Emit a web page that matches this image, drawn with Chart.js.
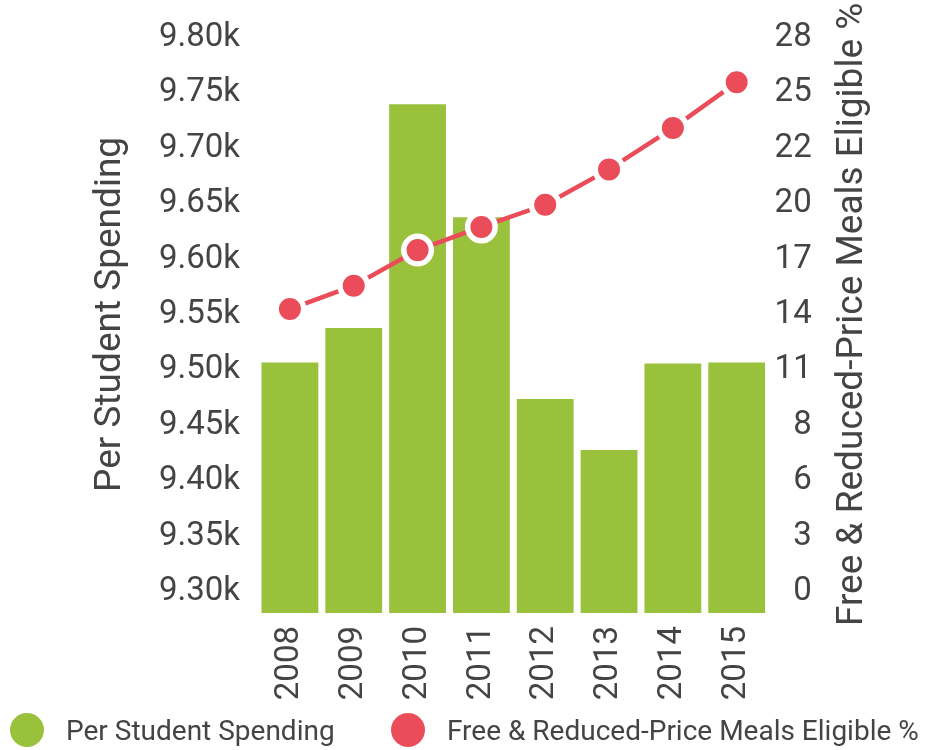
<!DOCTYPE html>
<html>
<head>
<meta charset="utf-8">
<script src="https://cdn.jsdelivr.net/npm/chart.js@4/dist/chart.umd.min.js"></script>
<style>
html, body { margin: 0; padding: 0; background: #fff; }
#wrap { position: relative; width: 935px; height: 750px; }
#legend { position: absolute; left: 0; top: 711px; width: 935px; height: 38px;
  font-family: Roboto, sans-serif; font-size: 28px; color: #444; }
.item { position: absolute; top: 0; height: 38px; display: flex; align-items: center; white-space: nowrap; }
.dot { width: 34px; height: 34px; border-radius: 50%; margin-right: 22px; flex: none; }
</style>
</head>
<body>
<div id="wrap">
  <canvas id="c"></canvas>
  <div id="legend"></div>
</div>
<script>
// ---- data ----
const years = ['2008', '2009', '2010', '2011', '2012', '2013', '2014', '2015'];
const perStudentSpending = [9507, 9538, 9740, 9638, 9474, 9428, 9506, 9507];
const frpmEligiblePct = [14.29, 15.47, 17.27, 18.44, 19.56, 21.35, 23.44, 25.75];
const spendingTicks = [9300, 9350, 9400, 9450, 9500, 9550, 9600, 9650, 9700, 9750, 9800];
const frpmTicks = [0, 2.8, 5.6, 8.4, 11.2, 14, 16.8, 19.6, 22.4, 25.2, 28];
const seriesNames = ['Per Student Spending', 'Free & Reduced-Price Meals Eligible %'];

// ---- style ----
const GREEN = '#99c13c';
const RED = '#ea4c5a';
const TEXT = '#444444';
const FONT = 'Roboto';

// axis titles, both reading bottom-to-top
const axisTitlePlugin = {
  id: 'axisTitles',
  afterDraw(chart) {
    const ca = chart.chartArea;
    const ctx = chart.ctx;
    const cy = (ca.top + ca.bottom) / 2 - 11;
    const items = [
      { x: chart.scales.yL.left + 111, text: seriesNames[0] },
      { x: chart.scales.yR.right + 41, text: seriesNames[1] }
    ];
    items.forEach(it => {
      ctx.save();
      ctx.translate(it.x, cy);
      ctx.rotate(-Math.PI / 2);
      ctx.font = '37px ' + FONT;
      ctx.fillStyle = TEXT;
      ctx.textAlign = 'center';
      ctx.textBaseline = 'middle';
      ctx.fillText(it.text, 0, 0);
      ctx.restore();
    });
  }
};

const chart = new Chart(document.getElementById('c'), {
  type: 'bar',
  data: {
    labels: years,
    datasets: [
      {
        type: 'line',
        label: seriesNames[1],
        data: frpmEligiblePct,
        yAxisID: 'yR',
        order: 0,
        borderColor: RED,
        borderWidth: 4.5,
        backgroundColor: RED,
        pointRadius: 13.75,
        pointBorderWidth: 5.5,
        pointBorderColor: '#ffffff',
        pointBackgroundColor: RED,
        tension: 0,
        fill: false
      },
      {
        type: 'bar',
        label: seriesNames[0],
        data: perStudentSpending,
        yAxisID: 'yL',
        order: 1,
        backgroundColor: GREEN,
        borderWidth: 0,
        barPercentage: 0.89,
        categoryPercentage: 1.0
      }
    ]
  },
  options: {
    responsive: true,
    maintainAspectRatio: false,
    animation: false,
    layout: { padding: { top: 33.3, bottom: 50, left: 0, right: 123.3 } },
    plugins: {
      legend: { display: false },
      tooltip: { enabled: false }
    },
    scales: {
      x: {
        offset: true,
        grid: { display: false, drawTicks: false },
        border: { display: false },
        ticks: {
          color: TEXT,
          font: { family: FONT, size: 33 },
          minRotation: 90, maxRotation: 90,
          autoSkip: false,
          padding: 13
        },
        afterFit(s) { s.height = 87; }
      },
      yL: {
        position: 'left',
        beginAtZero: false,
        min: 9280.9,
        max: 9800,
        grid: { display: false, drawTicks: false },
        border: { display: false },
        afterBuildTicks(s) { s.ticks = spendingTicks.map(v => ({ value: v })); },
        ticks: {
          color: TEXT,
          font: { family: FONT, size: 33 },
          padding: 18,
          callback: v => (v / 1000).toFixed(2) + 'k'
        },
        afterFit(s) { s.width = 258; }
      },
      yR: {
        position: 'right',
        beginAtZero: false,
        min: -1.07,
        max: 28,
        grid: { display: false, drawTicks: false },
        border: { display: false },
        afterBuildTicks(s) { s.ticks = frpmTicks.map(v => ({ value: v })); },
        ticks: {
          color: TEXT,
          font: { family: FONT, size: 33 },
          padding: 4,
          crossAlign: 'far',
          callback: v => String(Math.round(v))
        },
        afterFit(s) { s.width = 43.1; }
      }
    }
  },
  plugins: [axisTitlePlugin]
});

// HTML legend built from the chart's datasets
const legend = document.getElementById('legend');
const legendOrder = [1, 0];
const legendLeft = [10, 391];
legendOrder.forEach((di, i) => {
  const ds = chart.data.datasets[di];
  const item = document.createElement('div');
  item.className = 'item';
  item.style.left = legendLeft[i] + 'px';
  const dot = document.createElement('span');
  dot.className = 'dot';
  dot.style.background = ds.type === 'line' ? ds.pointBackgroundColor : ds.backgroundColor;
  const txt = document.createElement('span');
  txt.textContent = ds.label;
  item.appendChild(dot);
  item.appendChild(txt);
  legend.appendChild(item);
});
</script>
</body>
</html>
